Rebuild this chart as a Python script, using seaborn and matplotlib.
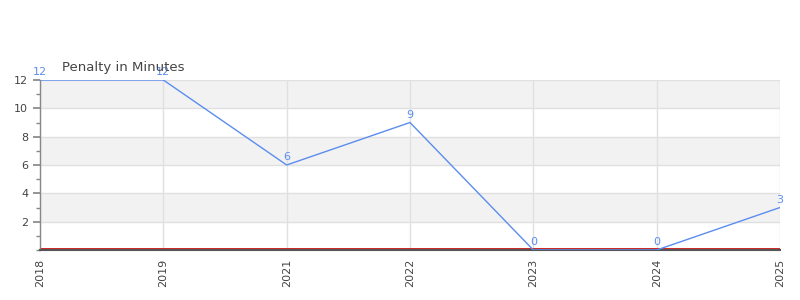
import matplotlib
matplotlib.use("Agg")
import matplotlib.pyplot as plt
import seaborn as sns
import pandas as pd
from matplotlib.ticker import MultipleLocator

years = ["2018", "2019", "2021", "2022", "2023", "2024", "2025"]
penalty = [12, 12, 6, 9, 0, 0, 3]
title = "Penalty in Minutes"

sns.set_theme(style="white")
plt.rcParams['font.family'] = ['DejaVu Sans']

df = pd.DataFrame({"idx": range(len(years)), "year": years, "penalty": penalty})

fig = plt.figure(figsize=(8, 3), dpi=100)
ax = fig.add_axes([0.05, 1 - 250/300, 0.925, 170/300])

line_color = "#5b8def"
for lo in (2, 6, 10):
    ax.axhspan(lo, lo + 2, color="#f2f2f2", zorder=0, lw=0)
for y in range(2, 13, 2):
    ax.axhline(y, color="#e0e0e0", lw=1, zorder=1)
for i in df["idx"]:
    ax.axvline(i, color="#e0e0e0", lw=1, zorder=1)

sns.lineplot(data=df, x="idx", y="penalty", ax=ax, color=line_color, lw=1.0, zorder=3)
for i, v in zip(df["idx"], df["penalty"]):
    ax.text(i, v + 0.2, str(v), color=line_color, ha="center", va="bottom", fontsize=8, zorder=4)

ax.axhline(0.08, color="#cc0000", lw=1.2, zorder=2)

ax.set_xlim(0, len(years) - 1)
ax.set_ylim(0, 12)
ax.set_xticks(df["idx"])
ax.set_xticklabels(years, rotation=90, fontsize=8, color="#444444")
ax.set_yticks(range(2, 13, 2))
ax.set_yticklabels([str(t) for t in range(2, 13, 2)], fontsize=8, color="#444444")
ax.yaxis.set_minor_locator(MultipleLocator(1))
ax.tick_params(axis="y", which="major", length=5, color="#888888", left=True)
ax.tick_params(axis="y", which="minor", length=3, color="#888888", left=True)
ax.tick_params(axis="x", length=0, pad=6)
ax.set_xlabel("")
ax.set_ylabel("")
for s in ("top", "right"):
    ax.spines[s].set_visible(False)
ax.spines["left"].set_color("#888888")
ax.spines["left"].set_linewidth(1)
ax.spines["bottom"].set_color("#555555")
ax.spines["bottom"].set_linewidth(1.5)

fig.text(62/800, 1 - 67/300, title, fontsize=9.5, color="#444444", ha="left", va="center")

fig.savefig("out.png", dpi=100)
